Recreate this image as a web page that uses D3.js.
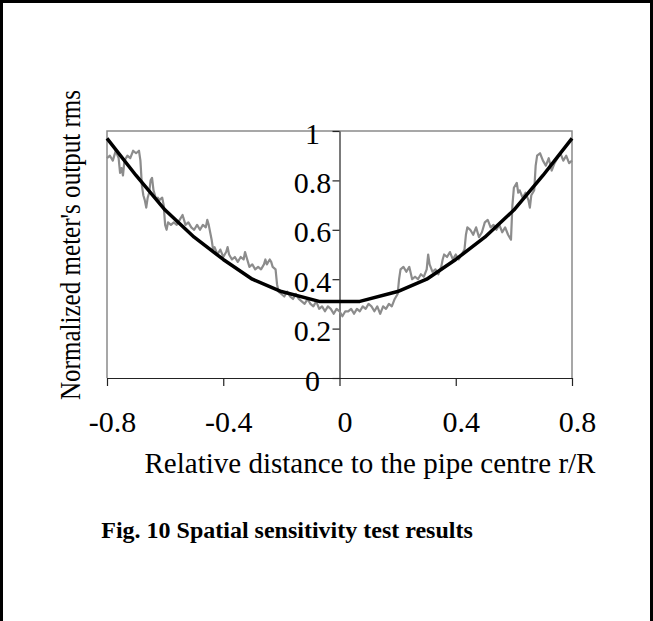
<!DOCTYPE html>
<html lang="en">
<head>
    <meta charset="UTF-8">
    <title>Spatial sensitivity test results</title>
    <style>
        body {margin: 0; background: white;}
        text {font-family: "Liberation Serif", "Times New Roman", serif; fill: black;}
    </style>
    <script src="https://cdn.jsdelivr.net/npm/d3@7"></script>
</head>
<body>
<script>
    const width = 653;
    const height = 621;

    // measured signal (grey, noisy)
    const measuredR = [
        -0.80, -0.79, -0.78, -0.77, -0.76, -0.755, -0.75, -0.745, -0.74, -0.73, -0.72, -0.71, -0.70, -0.69, -0.685,
        -0.68, -0.675, -0.67, -0.665, -0.66, -0.655, -0.65, -0.645, -0.64, -0.635, -0.63, -0.625, -0.62, -0.61, -0.605,
        -0.60, -0.595, -0.59, -0.58, -0.57, -0.56, -0.55, -0.54, -0.535, -0.53, -0.52, -0.51, -0.50, -0.49, -0.48,
        -0.47, -0.46, -0.455, -0.45, -0.44, -0.435, -0.43, -0.42, -0.41, -0.40, -0.39, -0.385, -0.38, -0.37, -0.36,
        -0.35, -0.34, -0.33, -0.325, -0.32, -0.31, -0.30, -0.29, -0.28, -0.27, -0.26, -0.255, -0.25, -0.24, -0.235,
        -0.23, -0.22, -0.215, -0.21, -0.20, -0.19, -0.18, -0.17, -0.16, -0.15, -0.14, -0.13, -0.12, -0.11, -0.10,
        -0.09, -0.08, -0.07, -0.06, -0.05, -0.04, -0.03, -0.02, -0.01, 0.00, 0.01, 0.02, 0.03, 0.04, 0.05,
        0.06, 0.07, 0.08, 0.09, 0.10, 0.11, 0.12, 0.13, 0.14, 0.15, 0.16, 0.17, 0.18, 0.19, 0.20,
        0.205, 0.21, 0.22, 0.23, 0.24, 0.25, 0.26, 0.27, 0.28, 0.29, 0.30, 0.305, 0.31, 0.32, 0.33,
        0.34, 0.35, 0.355, 0.36, 0.37, 0.38, 0.39, 0.40, 0.41, 0.42, 0.43, 0.435, 0.44, 0.45, 0.46,
        0.47, 0.48, 0.49, 0.50, 0.51, 0.52, 0.53, 0.54, 0.55, 0.56, 0.57, 0.58, 0.59, 0.595, 0.60,
        0.61, 0.615, 0.62, 0.63, 0.64, 0.65, 0.655, 0.66, 0.67, 0.675, 0.68, 0.69, 0.70, 0.71, 0.72,
        0.73, 0.74, 0.75, 0.76, 0.77, 0.78, 0.79, 0.80
    ];
    const measuredRms = [
        0.89, 0.90, 0.88, 0.92, 0.89, 0.83, 0.85, 0.82, 0.88, 0.90, 0.89, 0.92, 0.91, 0.92, 0.88,
        0.78, 0.74, 0.72, 0.69, 0.73, 0.75, 0.80, 0.81, 0.76, 0.74, 0.72, 0.73, 0.72, 0.73, 0.70,
        0.62, 0.60, 0.63, 0.62, 0.63, 0.62, 0.64, 0.66, 0.64, 0.62, 0.63, 0.61, 0.60, 0.62, 0.60,
        0.62, 0.61, 0.64, 0.62, 0.56, 0.52, 0.53, 0.50, 0.52, 0.49, 0.51, 0.53, 0.50, 0.48, 0.49,
        0.47, 0.49, 0.48, 0.51, 0.49, 0.45, 0.46, 0.44, 0.45, 0.44, 0.46, 0.48, 0.46, 0.48, 0.47,
        0.45, 0.44, 0.38, 0.35, 0.34, 0.33, 0.35, 0.33, 0.32, 0.34, 0.32, 0.31, 0.30, 0.32, 0.30,
        0.29, 0.31, 0.28, 0.29, 0.27, 0.29, 0.28, 0.26, 0.28, 0.27, 0.25, 0.27, 0.27, 0.28, 0.26,
        0.28, 0.27, 0.29, 0.28, 0.30, 0.29, 0.27, 0.29, 0.26, 0.29, 0.28, 0.30, 0.29, 0.32, 0.34,
        0.40, 0.44, 0.45, 0.43, 0.45, 0.40, 0.41, 0.40, 0.42, 0.41, 0.44, 0.50, 0.46, 0.43, 0.44,
        0.42, 0.45, 0.48, 0.50, 0.49, 0.51, 0.48, 0.50, 0.48, 0.50, 0.52, 0.58, 0.61, 0.60, 0.58,
        0.61, 0.57, 0.59, 0.63, 0.64, 0.61, 0.62, 0.60, 0.62, 0.59, 0.61, 0.58, 0.56, 0.70, 0.77,
        0.79, 0.75, 0.76, 0.73, 0.75, 0.72, 0.69, 0.74, 0.76, 0.86, 0.90, 0.91, 0.88, 0.86, 0.89,
        0.84, 0.87, 0.89, 0.91, 0.88, 0.90, 0.87, 0.88
    ];

    // fitted curve (black)
    const fitR   = [-0.8, -0.7, -0.6, -0.5, -0.4, -0.3, -0.2, -0.07, 0.07, 0.2, 0.3, 0.4, 0.5, 0.6, 0.7, 0.8];
    const fitRms = [0.97, 0.82, 0.68, 0.57, 0.48, 0.40, 0.35, 0.31, 0.31, 0.35, 0.40, 0.48, 0.57, 0.68, 0.82, 0.97];

    const xTicks = [-0.8, -0.4, 0, 0.4, 0.8];
    const yTicks = [0, 0.2, 0.4, 0.6, 0.8, 1];

    const plot = {left: 107, right: 572, top: 131, bottom: 378};

    const svg = d3.select("body").append("svg")
        .attr("width", width).attr("height", height);

    svg.append("rect").attr("width", width).attr("height", height).style("fill", "white");

    // outer frame (no bottom edge visible)
    svg.append("path")
        .attr("d", `M1.5,${height} V1.5 H${width - 1.5} V${height}`)
        .style("fill", "none").style("stroke", "black").style("stroke-width", 3);

    const x = d3.scaleLinear().domain([-0.8, 0.8]).range([plot.left, plot.right]);
    const y = d3.scaleLinear().domain([0, 1]).range([plot.bottom, plot.top]);

    // plain hyphen for negatives, like the original
    const fmt = d => String(d);

    // plot area border
    svg.append("path")
        .attr("d", `M${plot.left},${plot.bottom} V${plot.top} H${plot.right} V${plot.bottom}`)
        .style("fill", "none").style("stroke", "#8a8a8a").style("stroke-width", 1.5);

    // x axis
    const xAxis = svg.append("g")
        .attr("transform", `translate(0,${plot.bottom})`)
        .call(d3.axisBottom(x).tickValues(xTicks).tickSize(8).tickSizeOuter(0).tickFormat(fmt));
    xAxis.select(".domain").style("stroke", "#222").style("stroke-width", 1.2);
    xAxis.selectAll(".tick line").style("stroke", "#222").style("stroke-width", 1.2);
    xAxis.selectAll(".tick text")
        .attr("y", 54).attr("dy", 0).attr("dx", 5)
        .style("font-size", "30px").style("font-family", "'Liberation Serif', serif");

    // y axis sits at r = 0
    const yAxis = svg.append("g")
        .attr("transform", `translate(${x(0)},0)`)
        .call(d3.axisLeft(y).tickValues(yTicks).tickSize(7).tickSizeOuter(0).tickFormat(fmt));
    yAxis.select(".domain").style("stroke", "#222").style("stroke-width", 1.2);
    yAxis.selectAll(".tick line").style("stroke", "#222").style("stroke-width", 1.2);
    yAxis.selectAll(".tick text")
        .attr("x", -27).attr("dy", 12)
        .style("text-anchor", "middle")
        .style("font-size", "30px").style("font-family", "'Liberation Serif', serif");

    const line = d3.line().x(d => x(d[0])).y(d => y(d[1]));

    svg.append("path")
        .datum(d3.zip(measuredR, measuredRms))
        .attr("d", line)
        .style("fill", "none").style("stroke", "#8c8c8c").style("stroke-width", 2.2)
        .style("stroke-linejoin", "round");

    svg.append("path")
        .datum(d3.zip(fitR, fitRms))
        .attr("d", line)
        .style("fill", "none").style("stroke", "black").style("stroke-width", 3.5)
        .style("stroke-linejoin", "round");

    // axis titles
    svg.append("text")
        .attr("x", 370).attr("y", 473)
        .style("text-anchor", "middle").style("font-size", "29px")
        .text("Relative distance to the pipe centre r/R");

    svg.append("text")
        .attr("transform", "translate(80,245) rotate(-90)")
        .attr("textLength", 310).attr("lengthAdjust", "spacingAndGlyphs")
        .style("text-anchor", "middle").style("font-size", "29px")
        .text("Normalized meter's output rms");

    // caption
    svg.append("text")
        .attr("x", 287).attr("y", 538)
        .style("text-anchor", "middle").style("font-size", "24px").style("font-weight", "bold")
        .text("Fig. 10 Spatial sensitivity test results");
</script>
</body>
</html>
